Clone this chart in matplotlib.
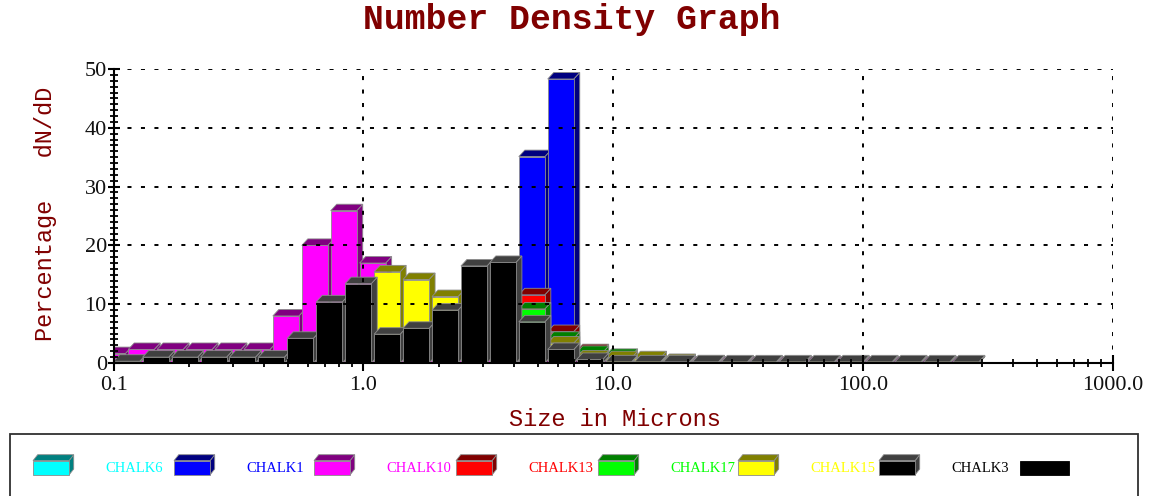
import matplotlib.pyplot as plt
from matplotlib.patches import Polygon, Rectangle
from matplotlib.ticker import FixedLocator, LogLocator, MultipleLocator, NullFormatter
import numpy as np

plt.rcParams['lines.scale_dashes'] = False

W, H = 1150, 496

# bin edges in microns (CHALK10 was binned half a step lower)
size_edges = [0.1, 0.1306, 0.1705, 0.2227, 0.2907, 0.3797, 0.4958, 0.6474, 0.8453,
              1.104, 1.441, 1.882, 2.458, 3.209, 4.191, 5.472, 7.146, 9.331,
              12.18, 15.91, 20.78, 27.13, 35.43, 46.26, 60.40, 78.88, 103.0,
              134.5, 175.6, 229.3, 299.5]
size_edges_ch10 = [0.0875, 0.1143, 0.1492, 0.1948, 0.2544, 0.3322, 0.4338, 0.5665,
                   0.7397, 0.9659, 1.261, 1.647, 2.151, 2.808, 3.667, 4.788, 6.253,
                   8.165, 10.66, 13.92, 18.18, 23.74, 31.00, 40.48, 52.85, 69.01,
                   90.12, 117.7, 153.7, 200.7, 262.0]

series_names = ['CHALK6', 'CHALK1', 'CHALK10', 'CHALK13', 'CHALK17', 'CHALK15', 'CHALK3']

chalk6 = [0, 0, 0, 0, 0, 0, 0, 0, 0, 0, 0, 0, 0, 0, 0,
          0, 0, 0, 0, 0, 0, 0, 0, 0, 0, 0, 0, 0, 0, 0]
chalk1 = [0, 0, 0, 0, 0, 0, 0, 0, 0, 0, 0, 0, 0.5, 2.0, 35.1,
          48.3, 0.5, 0, 0, 0, 0, 0, 0, 0, 0, 0, 0, 0, 0, 0]
chalk10 = [1.6, 2.3, 2.3, 2.3, 2.3, 2.3, 8.0, 20.0, 25.9, 17.0, 10.0, 5.0, 2.0, 0.8, 0.3,
           0, 0, 0, 0, 0, 0, 0, 0, 0, 0, 0, 0, 0, 0, 0]
chalk13 = [0, 0, 0, 0, 0, 0, 0, 0, 0, 0, 0, 0, 1.5, 4.0, 11.6,
           5.35, 2.1, 0.5, 0, 0.4, 0, 0, 0, 0, 0, 0, 0, 0, 0, 0]
chalk17 = [0, 0, 0, 0, 0, 0, 0, 0, 0, 0, 0.5, 1.5, 3.0, 5.0, 9.2,
           4.2, 1.8, 1.3, 0.3, 0.2, 0, 0, 0, 0, 0, 0, 0, 0, 0, 0]
chalk15 = [0, 0, 0, 0, 0, 0, 1.5, 4.0, 8.0, 15.5, 14.2, 11.3, 8.5, 6.0, 4.5,
           3.4, 1.0, 0.9, 0.9, 0.4, 0.2, 0, 0, 0, 0, 0, 0, 0, 0, 0]
chalk3 = [0.3, 1.0, 1.0, 1.0, 1.0, 1.0, 4.2, 10.4, 13.5, 4.9, 5.9, 9.0, 16.5, 17.1, 7.0,
          2.3, 0.6, 0.2, 0.2, 0.2, 0.2, 0.2, 0.2, 0.2, 0.2, 0.2, 0.2, 0.2, 0.2, 0.2]

series_values = [chalk6, chalk1, chalk10, chalk13, chalk17, chalk15, chalk3]
series_edges = [size_edges, size_edges, size_edges_ch10, size_edges, size_edges, size_edges, size_edges]

front_colors = ['#00ffff', '#0000ff', '#ff00ff', '#ff0000', '#00ff00', '#ffff00', '#000000']
shade_colors = ['#008080', '#000080', '#800080', '#800000', '#008000', '#808000', '#404040']
label_colors = ['#00ffff', '#0000ff', '#ff00ff', '#ff0000', '#00ff00', '#ffff00', '#000000']
edge_color = '#8c8c8c'

DX, DY = 6.0, 6.5   # depth of the 3d bars, pixels
FILL = 0.9          # share of a bin covered by the front face

fig = plt.figure(figsize=(W / 100, H / 100), dpi=100)
ax = fig.add_axes([113.7 / W, 133 / H, (1112.5 - 113.7) / W, 294 / H])
ax.set_xscale('log')
ax.set_xlim(0.1, 1000)
ax.set_ylim(0, 50)

for s in ['top', 'right']:
    ax.spines[s].set_visible(False)
for s in ['left', 'bottom']:
    ax.spines[s].set_linewidth(1.5)

ax.xaxis.set_major_locator(FixedLocator([0.1, 1, 10, 100, 1000]))
ax.set_xticklabels(['0.1', '1.0', '10.0', '100.0', '1000.0'])
ax.xaxis.set_minor_locator(LogLocator(base=10, subs=np.arange(2, 10)))
ax.xaxis.set_minor_formatter(NullFormatter())
ax.yaxis.set_major_locator(MultipleLocator(10))
ax.yaxis.set_minor_locator(MultipleLocator(1))
ax.tick_params(which='major', direction='inout', length=12, width=1.5, pad=3,
               labelsize=16, labelcolor='#111111')
ax.tick_params(axis='y', which='major', length=8, pad=1)
ax.tick_params(which='minor', direction='inout', length=6, width=1.3)
for lab in ax.get_xticklabels() + ax.get_yticklabels():
    lab.set_family('Liberation Serif')

ax.grid(True, which='major', color='black', linewidth=1.4, linestyle=(0, (2.9, 6.8)))
ax.set_axisbelow('line')

to_disp = ax.transData.transform
to_data = ax.transData.inverted().transform


def bar3d(x0, x1, v, face, shade):
    (a, b0), (c, b1) = to_disp([(x0, 0), (x1, v)])
    front = [(a, b0), (c, b0), (c, b1), (a, b1)]
    top = [(a, b1), (c, b1), (c + DX, b1 + DY), (a + DX, b1 + DY)]
    side = [(c, b0), (c + DX, b0 + DY), (c + DX, b1 + DY), (c, b1)]
    for pts, col in [(side, shade), (top, shade), (front, face)]:
        ax.add_patch(Polygon(to_data(pts), closed=True, facecolor=col,
                             edgecolor=edge_color, linewidth=0.6, zorder=1))


for vals, edges, fc, sc in zip(series_values, series_edges, front_colors, shade_colors):
    for i, v in enumerate(vals):
        lo, hi = np.log10(edges[i]), np.log10(edges[i + 1])
        bar3d(10 ** lo, 10 ** (lo + FILL * (hi - lo)), v, fc, sc)

ax.plot([size_edges[0], size_edges[-1]], [0, 0], color='#a3a36a', linewidth=1.0, zorder=1.2)

# titles
fig.text(572 / W, 1 - 20 / H, 'Number Density Graph', ha='center', va='center',
         family='Liberation Mono', fontweight='bold', fontsize=25, color='#800000')
fig.text(615 / W, 1 - 420 / H, 'Size in Microns', ha='center', va='center',
         family='Liberation Mono', fontsize=17, color='#800000')
fig.text(46 / W, 1 - 213.5 / H, 'Percentage   dN/dD', ha='center', va='center', rotation=90,
         family='Liberation Mono', fontsize=17, color='#800000')

# legend frame and entries
fig.patches.append(Rectangle((10 / W, -0.02), 1128 / W, (H - 434) / H + 0.02,
                             transform=fig.transFigure,
                             facecolor='white', edgecolor='#303030', linewidth=1.3))


def fig_pts(pts):
    return [(x / W, 1 - y / H) for x, y in pts]


def legend_box(x, face, shade, flat=False, w=36):
    y0, y1 = 475, 460.7
    front = [(x, y0), (x + w, y0), (x + w, y1), (x, y1)]
    if not flat:
        dx, dy = 4.7, 6
        top = [(x, y1), (x + w, y1), (x + w + dx, y1 - dy), (x + dx, y1 - dy)]
        side = [(x + w, y0), (x + w + dx, y0 - dy), (x + w + dx, y1 - dy), (x + w, y1)]
        for pts in (side, top):
            fig.patches.append(Polygon(fig_pts(pts), closed=True, transform=fig.transFigure,
                                       facecolor=shade, edgecolor=edge_color, linewidth=0.6))
    fig.patches.append(Polygon(fig_pts(front), closed=True, transform=fig.transFigure,
                               facecolor=face, edgecolor=edge_color if not flat else face,
                               linewidth=0.6))


box_x = [33, 174, 314, 456, 598, 738, 879]
for i, name in enumerate(series_names):
    legend_box(box_x[i], front_colors[i], shade_colors[i])
    fig.text((box_x[i] + 72) / W, 1 - 468 / H, name, ha='left', va='center',
             family='Liberation Serif', fontsize=10.5, color=label_colors[i])
legend_box(1020, '#000000', '#000000', flat=True, w=49)

fig.savefig('out.png', dpi=100)
